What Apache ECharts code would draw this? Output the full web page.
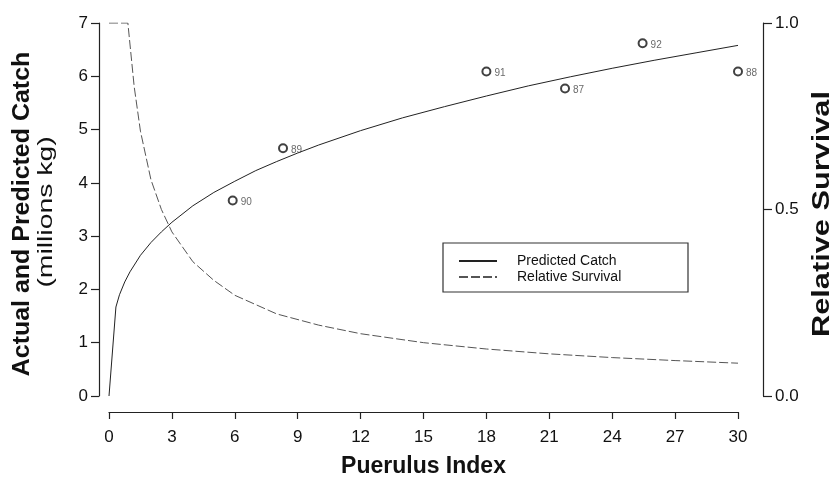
<!DOCTYPE html>
<html>
<head>
<meta charset="utf-8">
<script src="https://cdn.jsdelivr.net/npm/echarts@6/dist/echarts.min.js"></script>
<style>
  html, body { margin: 0; padding: 0; background: #fff; }
  #chart { width: 834px; height: 483px; }
</style>
</head>
<body>
<div id="chart"></div>
<script>
// Observed catch by season (puerulus index, catch in millions kg, season label)
const obsIndex  = [5.9, 8.3, 18.0, 21.75, 25.45, 30.0];
const obsCatch  = [3.67, 4.65, 6.09, 5.77, 6.62, 6.09];
const obsSeason = ['90', '89', '91', '87', '92', '88'];

// Predicted catch curve
const predIndex = [0, 0.33, 0.5, 0.75, 1, 1.5, 2, 2.5, 3, 4, 5, 6, 7, 8, 9, 10, 12, 14, 16, 18, 20, 22, 24, 26, 28, 30];
const predCatch = [0, 1.67, 1.90, 2.14, 2.33, 2.64, 2.88, 3.08, 3.26, 3.57, 3.82, 4.03, 4.23, 4.40, 4.56, 4.71, 4.98, 5.22, 5.43, 5.63, 5.82, 5.99, 6.15, 6.30, 6.44, 6.58];

// Relative survival curve (right axis)
const survIndex = [0, 0.9, 1.2, 1.5, 2, 2.5, 3, 4, 5, 6, 8, 10, 12, 15, 18, 21, 24, 27, 30];
const survValue = [1, 1, 0.83, 0.71, 0.58, 0.50, 0.44, 0.36, 0.31, 0.27, 0.22, 0.19, 0.167, 0.143, 0.126, 0.113, 0.103, 0.095, 0.088];

// Axis ticks
const xTicks = { min: 0, max: 30, step: 3 };
const yLeftTicks = { min: 0, max: 7, step: 1 };
const yRightTicks = { min: 0, max: 1, step: 0.5 };

// Axis titles
const xTitle = 'Puerulus Index';
const yLeftTitle = 'Actual and Predicted Catch';
const yLeftUnit = '(millions kg)';
const yRightTitle = 'Relative Survival';

const FONT = '"Liberation Sans", Arial, Helvetica, sans-serif';
const AXIS = { color: '#222', width: 1.2 };

const chart = echarts.init(document.getElementById('chart'), null, { renderer: 'canvas' });

const zip = (xs, ys) => xs.map((x, i) => [x, ys[i]]);

// vertical (bottom-to-top) title text, optionally stretched along its run
function vTitle(text, cx, cy, size, weight, stretch) {
  return {
    type: 'text',
    x: cx, y: cy,
    rotation: Math.PI / 2,
    scaleX: stretch,
    scaleY: 1,
    style: {
      text: text,
      fill: '#111',
      font: `${weight} ${size}px ${FONT}`,
      align: 'center',
      verticalAlign: 'middle'
    },
    silent: true
  };
}

chart.setOption({
  animation: false,
  backgroundColor: '#fff',
  textStyle: { fontFamily: FONT, color: '#111' },
  grid: { left: 109, right: 96, top: 23, bottom: 87, containLabel: false },
  xAxis: {
    type: 'value',
    min: xTicks.min, max: xTicks.max, interval: xTicks.step,
    offset: 16,
    splitLine: { show: false },
    axisLine: { show: true, onZero: false, lineStyle: AXIS },
    axisTick: { show: true, length: 7, lineStyle: AXIS },
    axisLabel: { fontSize: 17, color: '#111', margin: 17, fontFamily: FONT },
    name: xTitle,
    nameLocation: 'middle',
    nameGap: 43,
    nameTextStyle: { fontSize: 23, fontWeight: 'bold', color: '#111', fontFamily: FONT }
  },
  yAxis: [
    {
      type: 'value',
      min: yLeftTicks.min, max: yLeftTicks.max, interval: yLeftTicks.step,
      position: 'left',
      offset: 10,
      splitLine: { show: false },
      axisLine: { show: true, onZero: false, lineStyle: AXIS },
      axisTick: { show: true, length: 8, lineStyle: AXIS },
      axisLabel: { fontSize: 17, color: '#111', margin: 11, fontFamily: FONT }
    },
    {
      type: 'value',
      min: yRightTicks.min, max: yRightTicks.max, interval: yRightTicks.step,
      position: 'right',
      offset: 25,
      splitLine: { show: false },
      axisLine: { show: true, onZero: false, lineStyle: AXIS },
      axisTick: { show: true, length: 9, lineStyle: AXIS },
      axisLabel: { fontSize: 17, color: '#111', margin: 12, fontFamily: FONT,
                   formatter: v => v.toFixed(1) }
    }
  ],
  legend: {
    orient: 'vertical',
    left: 458,
    top: 254,
    itemWidth: 38,
    itemHeight: 14,
    itemGap: 2,
    padding: 0,
    data: ['Predicted Catch', 'Relative Survival'],
    itemStyle: { opacity: 0 },
    textStyle: { fontSize: 14, color: '#111', fontFamily: FONT, padding: [0, 0, 0, 15] }
  },
  graphic: [
    {
      type: 'rect',
      shape: { x: 443, y: 243, width: 245, height: 49 },
      style: { fill: 'none', stroke: '#333', lineWidth: 1.2 },
      z: 0
    },
    vTitle(yLeftTitle, 22, 214, 24, 'bold', 1.04),
    vTitle(yLeftUnit, 46, 212, 21, 'normal', 1.35),
    vTitle(yRightTitle, 822, 214, 24, 'bold', 1.28)
  ],
  series: [
    {
      name: 'Predicted Catch',
      type: 'line',
      yAxisIndex: 0,
      data: zip(predIndex, predCatch),
      symbol: 'none',
      smooth: false,
      lineStyle: { color: '#222', width: 1 },
      itemStyle: { color: '#222' },
      z: 2
    },
    {
      name: 'Relative Survival',
      type: 'line',
      yAxisIndex: 1,
      data: zip(survIndex, survValue),
      symbol: 'none',
      smooth: false,
      lineStyle: { color: '#555', width: 1, type: [9, 3] },
      itemStyle: { color: '#555' },
      z: 2
    },
    {
      name: 'Actual Catch',
      type: 'scatter',
      yAxisIndex: 0,
      data: obsIndex.map((x, i) => [x, obsCatch[i], obsSeason[i]]),
      symbol: 'circle',
      symbolSize: 8,
      itemStyle: { color: '#fff', borderColor: '#111', borderWidth: 2 },
      label: {
        show: true,
        position: 'right',
        distance: 3,
        offset: [0, 2],
        formatter: p => p.value[2],
        fontSize: 10,
        color: '#444',
        fontFamily: FONT
      },
      z: 3
    }
  ]
});
</script>
</body>
</html>
